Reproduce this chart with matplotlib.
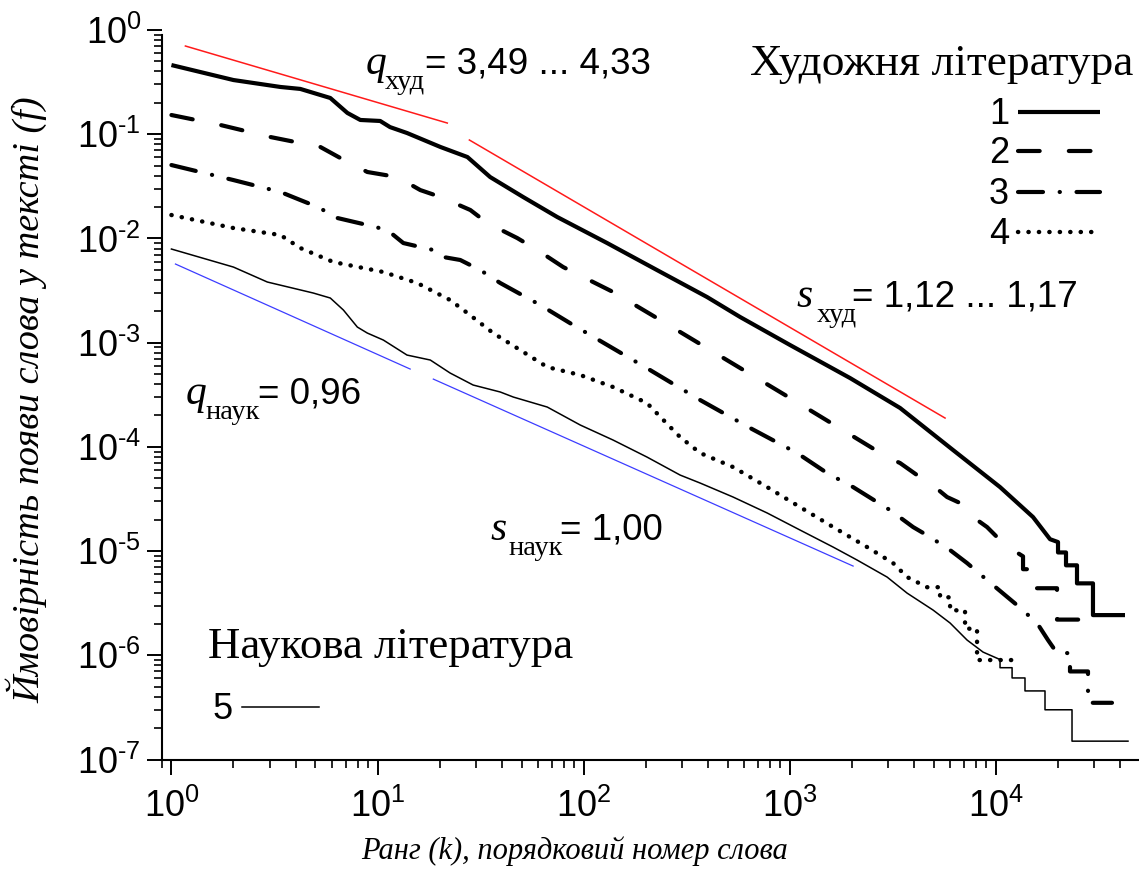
"""Rank-frequency (Zipf) curves for fiction vs. scientific texts, log-log."""

import matplotlib

matplotlib.use("Agg")

import matplotlib.pyplot as plt
import numpy as np
from matplotlib.lines import Line2D
from matplotlib.ticker import FuncFormatter, LogLocator, NullFormatter

W, H = 1139, 890

plt.rcParams["font.family"] = ["Liberation Sans", "DejaVu Sans"]
plt.rcParams["mathtext.fontset"] = "custom"
plt.rcParams["mathtext.rm"] = "Liberation Sans"
plt.rcParams["mathtext.it"] = "Liberation Sans:italic"

SERIF = ["Liberation Serif", "DejaVu Serif"]

# --- data ------------------------------------------------------------------
rank_1 = [1, 2.0, 3.38, 4.22, 5.90, 7.14, 8.25, 10.3, 11.5, 13.9,
          20.2, 27.3, 35.2, 50.9, 74.5, 130, 227, 397, 575, 1004,
          1963, 3431, 6200, 10480, 15150, 18320, 20030, 20030, 21900, 21900,
          24760, 24760, 29600, 29600, 42330]
freq_1 = [0.461, 0.331, 0.284, 0.272, 0.2226, 0.160, 0.137, 0.134, 0.117, 0.1027,
          0.0754, 0.0604, 0.0388, 0.02496, 0.01604, 0.00903, 0.00497, 0.00274, 0.00176, 0.000948,
          0.000457, 0.000236, 9.32e-5, 4.11e-5, 2.12e-5, 1.3e-5, 1.22e-5, 9.7e-6, 9.7e-6, 7.3e-6,
          7.3e-6, 4.9e-6, 4.9e-6, 2.43e-6, 2.43e-6]

rank_2 = [1, 1.729, 3.02, 5.28, 6.60, 8.92, 12.47, 16.13, 20.2, 28.2,
          34.1, 47.6, 59.6, 79.6, 99.5, 139, 227, 1004, 2968, 3431,
          4147, 4797, 5799, 6706, 7752, 9064, 10480, 12120, 13550, 13550,
          15840, 15840, 19810, 19810, 30280]
freq_2 = [0.1528, 0.1226, 0.0940, 0.0754, 0.0591, 0.0434, 0.0388, 0.0291, 0.0250, 0.01874,
          0.01405, 0.01009, 0.00774, 0.00531, 0.00426, 0.00306, 0.00172, 0.000294, 7.98e-5, 6.99e-5,
          5.36e-5, 4.49e-5, 3.30e-5, 2.89e-5, 2.12e-5, 1.70e-5, 1.275e-5, 1.022e-5, 8.9e-6, 6.7e-6,
          6.7e-6, 4.4e-6, 4.4e-6, 2.2e-6, 2.2e-6]

rank_3 = [1, 2.0, 3.38, 4.22, 5.28, 6.10, 8.92, 11.16, 13.34, 18.65,
          20.85, 25.2, 31.5, 39.4, 61.6, 89.0, 210, 368, 643, 1086,
          1519, 2030, 3069, 3967, 4797, 5998, 7252, 9064, 12670, 15840,
          17910, 19810, 22900, 22900, 28000, 28000, 36600]
freq_3 = [0.0506, 0.0363, 0.0279, 0.02336, 0.01957, 0.01604, 0.01345, 0.01204, 0.00903, 0.00774,
          0.00663, 0.00621, 0.00497, 0.003733, 0.002295, 0.001475, 0.000546, 0.000281, 0.0001515, 8.72e-5,
          5.60e-5, 4.11e-5, 2.47e-5, 1.70e-5, 1.363e-5, 1.022e-5, 7.67e-6, 5.27e-6, 3.03e-6, 2.04e-6,
          1.4e-6, 1.05e-6, 1.05e-6, 7.0e-7, 7.0e-7, 3.5e-7, 3.5e-7]

rank_4 = [1, 2.0, 3.38, 4.22, 6.10, 10.67, 15.6, 22.5, 27.3, 36.4,
          66.6, 96.3, 139, 203, 263, 294, 368, 531, 777, 1123,
          1624, 2374, 3173, 3710, 4638, 5362, 5362, 5998, 5998, 7088,
          7088, 8106, 8106, 12120]
freq_4 = [0.01677, 0.01258, 0.01078, 0.00809, 0.00594, 0.00476, 0.00373, 0.002564, 0.001923, 0.001236,
          0.000583, 0.000489, 0.000375, 0.000263, 0.000155, 0.000124, 8.72e-5, 6.40e-5, 4.11e-5, 2.64e-5,
          1.70e-5, 1.092e-5, 7.67e-6, 5.63e-6, 4.5e-6, 4.5e-6, 3.6e-6, 3.6e-6, 2.7e-6, 2.7e-6,
          1.8e-6, 1.8e-6, 9.0e-7, 9.0e-7]

rank_5 = [1, 2.0, 2.92, 4.88, 5.90, 6.83, 7.98, 8.92, 10.67, 13.9,
          18.03, 22.5, 29.1, 39.4, 45.6, 66.6, 96.3, 139, 203, 294,
          368, 531, 777, 1123, 1624, 2123, 2968, 3710, 4961, 5998,
          7252, 8670, 10480, 10480, 11990, 11990, 13850, 13850, 17320, 17320,
          23420, 23420, 43770]
freq_5 = [0.00791, 0.00531, 0.003816, 0.002992, 0.00268, 0.002055, 0.001411, 0.001236, 0.001059, 0.00076,
          0.000681, 0.000511, 0.000392, 0.000336, 0.0003005, 0.000241, 0.000162, 0.0001162, 7.98e-5, 5.36e-5,
          4.49e-5, 3.30e-5, 2.32e-5, 1.59e-5, 1.092e-5, 8.20e-6, 5.63e-6, 3.95e-6, 2.715e-6, 2.04e-6,
          1.40e-6, 1.073e-6, 9.1e-7, 7.6e-7, 7.6e-7, 6.06e-7, 6.06e-7, 4.55e-7, 4.55e-7, 3.0e-7,
          3.0e-7, 1.5e-7, 1.5e-7]

# power-law fit segments (q: head, s: body)
fit_q_hud = ([1.169, 21.8], [0.702, 0.128])
fit_s_hud = ([27.9, 5670], [0.0880, 0.000189])
fit_q_nauk = ([1.046, 14.4], [0.00568, 0.000558])
fit_s_nauk = ([18.65, 2030], [0.000447, 7.18e-6])

labels_hud = ["1", "2", "3", "4"]
label_nauk = "5"

# --- styles ------------------------------------------------------------------
THICK = 3.0
styles_hud = [
    dict(lw=THICK, ls="-", solid_capstyle="butt"),
    dict(lw=THICK, dashes=(5.2, 7.0), dash_capstyle="round"),
    dict(lw=THICK, dashes=(6.0, 4.0, 0.05, 4.0), dash_capstyle="round"),
    dict(lw=3.2, dashes=(0.05, 2.3), dash_capstyle="round"),
]
style_nauk = dict(lw=1.1, ls="-")

NUM_SIZE = 26


def _pow10(v, pos):
    e = int(round(np.log10(v)))
    sign = r"\text{-}" if e < 0 else ""
    return rf"$\mathregular{{10^{{{sign}{abs(e)}}}}}$"


def _ftext(fig, x_px, y_px, s, **kw):
    """Place text by pixel position (origin top-left), baseline aligned."""
    kw.setdefault("va", "baseline")
    return fig.text(x_px / W, 1 - y_px / H, s, **kw)


def _fline(fig, x0, x1, y, **kw):
    fig.add_artist(Line2D([x0 / W, x1 / W], [1 - y / H] * 2,
                          transform=fig.transFigure, color="black", **kw))


fig = plt.figure(figsize=(W / 100, H / 100), dpi=100)
ax = fig.add_axes([162 / W, 1 - 759.5 / H, 1 - 162 / W, (759.5 - 30) / H])

ax.loglog(fit_q_hud[0], fit_q_hud[1], color="#ff1a1a", lw=1.1)
ax.loglog(fit_s_hud[0], fit_s_hud[1], color="#ff1a1a", lw=1.1)
ax.loglog(fit_q_nauk[0], fit_q_nauk[1], color="#3c3cff", lw=0.9)
ax.loglog(fit_s_nauk[0], fit_s_nauk[1], color="#3c3cff", lw=0.9)

series = [(rank_1, freq_1), (rank_2, freq_2), (rank_3, freq_3), (rank_4, freq_4)]
for (k, f), st in zip(series, styles_hud):
    ax.loglog(k, f, color="black", solid_joinstyle="round", **st)
ax.loglog(rank_5, freq_5, color="black", **style_nauk)

ax.set_xlim(0.9, 49500)
ax.set_ylim(1e-7, 1.0)
ax.spines["top"].set_visible(False)
ax.spines["right"].set_visible(False)
ax.spines["left"].set_bounds(1e-7, 0.895)
for sp in ("left", "bottom"):
    ax.spines[sp].set_linewidth(1.5)

for axis in (ax.xaxis, ax.yaxis):
    axis.set_major_locator(LogLocator(base=10, numticks=20))
    axis.set_minor_locator(LogLocator(base=10, subs=np.arange(2, 10), numticks=20))
    axis.set_major_formatter(FuncFormatter(_pow10))
    axis.set_minor_formatter(NullFormatter())
ax.tick_params(which="major", direction="out", length=11, width=1.4, labelsize=NUM_SIZE)
ax.tick_params(axis="x", which="major", pad=10)
ax.tick_params(axis="y", which="major", pad=4)
ax.tick_params(which="minor", direction="out", length=6, width=1.2)

# axis titles
_ftext(fig, 575, 851, "Ранг (k), порядковий номер слова", family=SERIF,
       style="italic", size=22, ha="center", va="center")
_ftext(fig, 27, 400, "Ймовірність появи слова у тексті (f)", family=SERIF,
       style="italic", size=27.5, ha="center", va="center", rotation=90)

# legend block: fiction
_ftext(fig, 1133, 75, "Художня література", family=SERIF, size=32.7, ha="right")
for lab, st, y in zip(labels_hud, styles_hud, [112, 151, 192, 232]):
    _ftext(fig, 1009, y + 12, lab, size=NUM_SIZE, ha="right")
    _fline(fig, 1018, 1100, y, **st)

# legend block: scientific
_ftext(fig, 208, 658, "Наукова література", family=SERIF, size=32.3)
_ftext(fig, 233, 719, label_nauk, size=NUM_SIZE, ha="right")
_fline(fig, 242, 319, 707, **style_nauk)

# exponent annotations: (x of symbol, baseline, symbol, subscript, x of sub, x of rhs, rhs)
annotations = [
    (366, 74, "q", "худ", 385, 425, "= 3,49 ... 4,33"),
    (796, 307, "s", "худ", 817, 852, "= 1,12 ... 1,17"),
    (186, 404, "q", "наук", 205, 258, "= 0,96"),
    (490, 540, "s", "наук", 508, 560, "= 1,00"),
]
for x, y, sym, sub, sub_x, rhs_x, rhs in annotations:
    _ftext(fig, x, y, sym, family=SERIF, style="italic", size=30)
    _ftext(fig, sub_x, y + 15, sub, family=SERIF, size=20.5)
    _ftext(fig, rhs_x, y, rhs, size=26.5)

fig.savefig("out.png", dpi=100)
